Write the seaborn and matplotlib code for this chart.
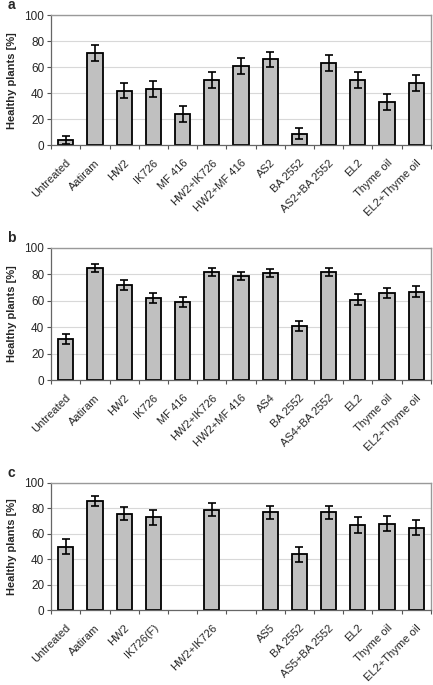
import numpy as np
import pandas as pd
import seaborn as sns
import matplotlib.pyplot as plt
from matplotlib.ticker import FixedLocator

sns.set_style("white")
plt.rcParams['font.family'] = ['Liberation Sans', 'DejaVu Sans']

labels_a = ["Untreated", "Aatiram", "HW2", "IK726", "MF 416", "HW2+IK726", "HW2+MF 416",
            "AS2", "BA 2552", "AS2+BA 2552", "EL2", "Thyme oil", "EL2+Thyme oil"]
vals_a = [4, 71, 42, 43, 24, 50, 61, 66, 9, 63, 50, 33, 48]
err_a = [3, 6, 6, 6, 6, 6, 6, 6, 4, 6, 6, 6, 6]

labels_b = ["Untreated", "Aatiram", "HW2", "IK726", "MF 416", "HW2+IK726", "HW2+MF 416",
            "AS4", "BA 2552", "AS4+BA 2552", "EL2", "Thyme oil", "EL2+Thyme oil"]
vals_b = [31, 85, 72, 62, 59, 82, 79, 81, 41, 82, 61, 66, 67]
err_b = [4, 3, 4, 4, 4, 3, 3, 3, 4, 3, 4, 4, 4]

labels_c = ["Untreated", "Aatiram", "HW2", "IK726(F)", " ", "HW2+IK726", "  ",
            "AS5", "BA 2552", "AS5+BA 2552", "EL2", "Thyme oil", "EL2+Thyme oil"]
vals_c = [50, 86, 76, 73, np.nan, 79, np.nan, 77, 44, 77, 67, 68, 65]
err_c = [6, 4, 5, 6, np.nan, 5, np.nan, 5, 6, 5, 6, 6, 6]

panels = [("a", labels_a, vals_a, err_a, [0.118, 0.788, 0.877, 0.190]),
          ("b", labels_b, vals_b, err_b, [0.118, 0.445, 0.877, 0.193]),
          ("c", labels_c, vals_c, err_c, [0.118, 0.109, 0.877, 0.186])]

fig = plt.figure(figsize=(4.33, 6.85), dpi=100)

for letter, labels, vals, errs, pos in panels:
    ax = fig.add_axes(pos)
    df = pd.DataFrame({"treatment": labels, "healthy": vals})
    sns.barplot(data=df, x="treatment", y="healthy", ax=ax, color="#c0c0c0",
                edgecolor="black", linewidth=1.3, width=0.52, saturation=1)
    ax.errorbar(np.arange(len(labels)), vals, yerr=errs, fmt="none",
                ecolor="black", elinewidth=1.2, capsize=3, capthick=1.2)
    ax.set_ylim(0, 100)
    ax.set_xlim(-0.5, len(labels) - 0.5)
    ax.set_yticks([0, 20, 40, 60, 80, 100])
    ax.yaxis.grid(True, color="#d8d8d8", linewidth=0.8)
    ax.set_axisbelow(True)
    ax.set_xlabel("")
    ax.set_ylabel("Healthy plants [%]", fontsize=8, fontweight="bold", labelpad=5)
    ax.tick_params(axis="y", labelsize=8.5, length=3, width=0.8, color="#555555", left=True, pad=2)
    ax.tick_params(axis="x", which="major", length=0, labelsize=8, pad=9)
    ax.xaxis.set_minor_locator(FixedLocator(np.arange(len(labels) + 1) - 0.5))
    ax.tick_params(axis="x", which="minor", length=3, width=0.8, color="#555555", bottom=True)
    plt.setp(ax.get_xticklabels(), rotation=45, ha="right", rotation_mode="anchor")
    for side in ["top", "right"]:
        ax.spines[side].set_color("#999999")
        ax.spines[side].set_linewidth(1.0)
    for side in ["left", "bottom"]:
        ax.spines[side].set_color("#666666")
        ax.spines[side].set_linewidth(0.9)
    ax.text(-0.115, 1.0 + 0.02, letter, transform=ax.transAxes, fontsize=10,
            fontweight="bold", va="bottom", ha="left")

fig.savefig("out.png", dpi=100)
